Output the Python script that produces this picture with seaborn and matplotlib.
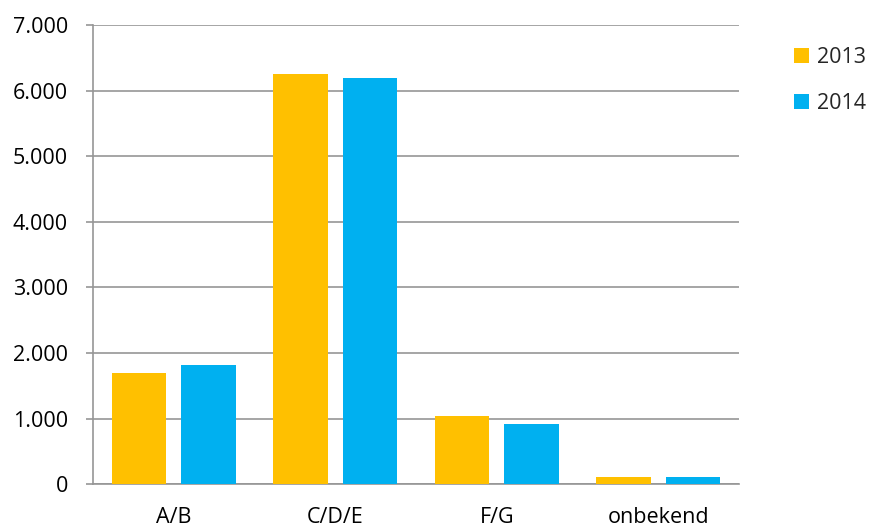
import matplotlib
matplotlib.use("Agg")
import matplotlib.pyplot as plt
from matplotlib.ticker import FuncFormatter, MultipleLocator
import seaborn as sns
import pandas as pd

# Number of items per category, per year
categories = ["A/B", "C/D/E", "F/G", "onbekend"]
values_2013 = [1692, 6255, 1037, 111]
values_2014 = [1814, 6189, 919, 107]
years = ["2013", "2014"]
colors = ["#FFC000", "#00B0F0"]

df = pd.DataFrame({
    "categorie": categories * 2,
    "jaar": [years[0]] * len(categories) + [years[1]] * len(categories),
    "aantal": values_2013 + values_2014,
})

sns.set_style("white")
plt.rcParams["font.family"] = ["Open Sans", "DejaVu Sans"]

FS = 15.5

fig = plt.figure(figsize=(8.7, 5.26), dpi=100)
ax = fig.add_axes([93 / 870, 1 - 484.3 / 526, 646 / 870, (484.3 - 25) / 526])

sns.barplot(data=df, x="categorie", y="aantal", hue="jaar", palette=colors,
            order=categories, hue_order=years, width=0.86, gap=0.22,
            saturation=1, linewidth=0, ax=ax, zorder=3)

ax.set_ylim(0, 7000)
ax.set_xlim(-0.5, len(categories) - 0.5)
ax.yaxis.set_major_locator(MultipleLocator(1000))
ax.yaxis.set_major_formatter(FuncFormatter(lambda v, _: f"{int(v):,}".replace(",", ".")))
ax.grid(axis="y", color="#969696", linewidth=1.2, zorder=0)
ax.set_axisbelow(True)

for side in ["top", "right"]:
    ax.spines[side].set_visible(False)
ax.spines["left"].set_color("#969696")
ax.spines["bottom"].set_color("#969696")
ax.spines["left"].set_linewidth(1.2)
ax.spines["bottom"].set_linewidth(1.2)

ax.tick_params(axis="y", length=5, width=1.2, color="#969696", pad=13,
               labelsize=FS, labelcolor="black", left=True)
ax.tick_params(axis="x", length=0, pad=16, labelsize=FS, labelcolor="black")
ax.set_xlabel("")
ax.set_ylabel("")

ax.legend(loc="upper left", bbox_to_anchor=(794 / 870, 1 - 47 / 526),
          bbox_transform=fig.transFigure, frameon=False, fontsize=FS,
          handlelength=0.7, handleheight=0.7, handletextpad=0.35,
          labelspacing=1.15, borderaxespad=0, borderpad=0, title=None)

fig.savefig("out.png", dpi=100)
